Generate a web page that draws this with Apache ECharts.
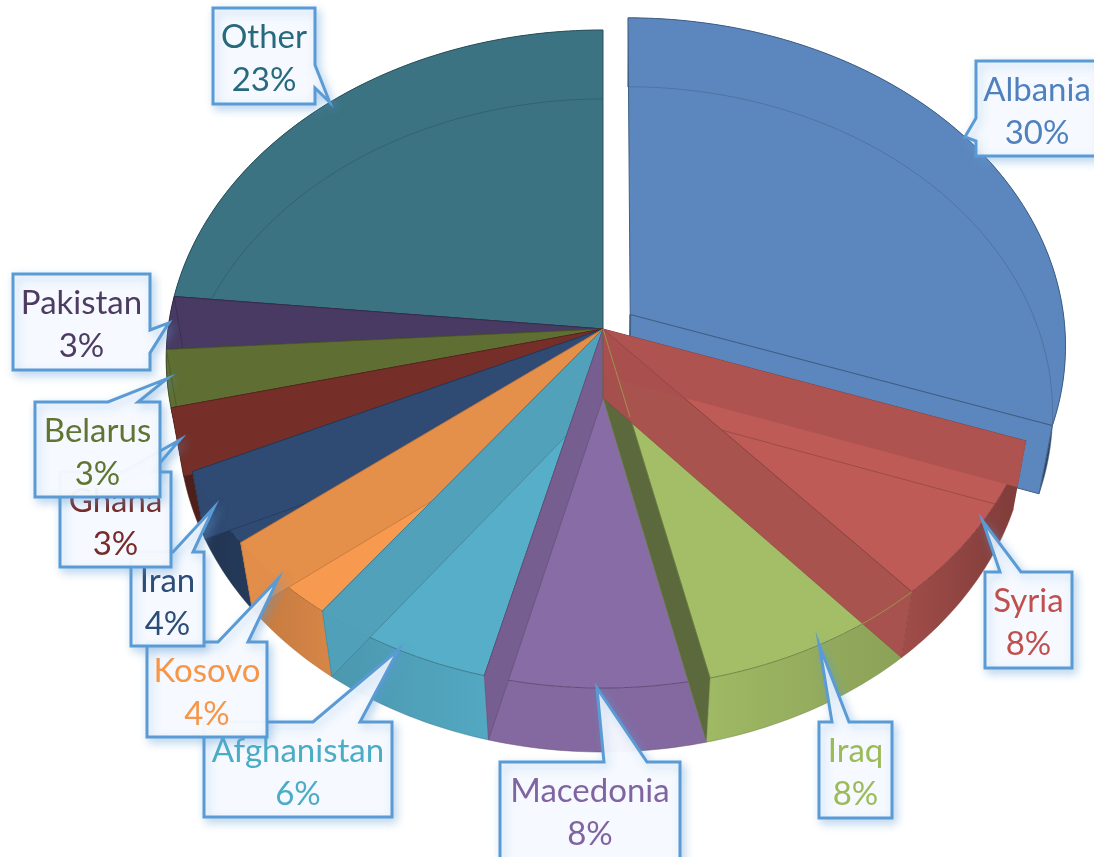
<!DOCTYPE html>
<html>
<head>
<meta charset="utf-8">
<title>3D pie</title>
<style>
  html, body { margin: 0; padding: 0; background: #fff; }
  #main { width: 1094px; height: 857px; }
</style>
<script src="https://cdn.jsdelivr.net/npm/echarts@6/dist/echarts.min.js"></script>
</head>
<body>
<div id="main"></div>
<script>
// data
const categories = ['Albania', 'Syria', 'Iraq', 'Macedonia', 'Afghanistan', 'Kosovo', 'Iran', 'Ghana', 'Belarus', 'Pakistan', 'Other'];
const values = [30.4, 8.1, 7.9, 7.6, 6.2, 4.2, 3.7, 3.1, 2.8, 2.6, 23.4];
const explode = [0.077, 0, 0, 0, 0, 0, 0, 0, 0, 0, 0];

// styles
const colors = ['#4F81BD', '#C0504D', '#9BBB59', '#8064A2', '#4BACC6', '#F79646', '#2C4D75', '#772C2A', '#5F7530', '#4D3B62', '#276A7C'];
const topColors = ['#5C87BE', '#BF5B57', '#A3BE67', '#886CA5', '#56AEC8', '#F79A50', '#2F4A73', '#752F28', '#5F6F35', '#483A62', '#3B7383'];
const wallShade = [1, 0.88, 0.55, 0.87, 0.92, 0.92, 1, 1, 1, 1, 1];

// label boxes: x0, y0, x1, y1, tail edge, tail base a, tail base b
const labelBoxes = [
  [976, 61, 1098, 156, 'left', 118, 141],
  [985, 572, 1072, 668, 'top', 1000, 1021],
  [819, 722, 892, 818, 'top', 832, 849],
  [500, 762, 680, 870, 'top', 604, 647],
  [204, 722, 392, 817, 'top', 313, 360],
  [147, 642, 267, 737, 'top', 218, 248],
  [131, 552, 204, 646, 'top', 173, 193],
  [60, 472, 171, 567, 'top', 123, 152],
  [35, 402, 160, 497, 'top', 108, 138],
  [13, 274, 150, 370, 'right', 330, 353],
  [213, 8, 315, 104, 'right', 65, 88]
];

const total = values.reduce((a, b) => a + b, 0);
const angles = [];
let acc = 0;
values.forEach(v => {
  angles.push([acc / total * 360, (acc + v) / total * 360]);
  acc += v;
});

// perspective disc: level 0 is the top face, level 1 the bottom face
const CX = 603;
const faces = [
  { cy: 329, r: 435, a: 326.3, b: 0.0912 },
  { cy: 398, r: 423, a: 324.2, b: 0.0842 }
];

function offsetOf(i) {
  const mid = (angles[i][0] + angles[i][1]) / 2 * Math.PI / 180;
  return [explode[i] * Math.sin(mid), -explode[i] * Math.cos(mid)];
}

function project(i, deg, rad, level) {
  const f = faces[level];
  const o = offsetOf(i);
  const t = deg * Math.PI / 180;
  const X = rad * Math.sin(t) + o[0];
  const Y = -rad * Math.cos(t) + o[1];
  const w = 1 - f.b * Y;
  return [CX + f.r * X / w, f.cy + f.a * Y / w];
}

function arc(i, level, from, to) {
  const pts = [];
  const n = Math.max(4, Math.ceil(Math.abs(to - from)));
  for (let k = 0; k <= n; k++) {
    pts.push(project(i, from + (to - from) * k / n, 1, level));
  }
  return pts;
}

function mix(hex, target, t) {
  const p = h => [1, 3, 5].map(k => parseInt(h.substr(k, 2), 16));
  const a = p(hex), b = p(target);
  return '#' + a.map((c, k) => Math.round(c + (b[k] - c) * t).toString(16).padStart(2, '0')).join('');
}

function wallLight(deg) {
  return 1 - 0.5 * Math.pow(Math.min(1, Math.abs(deg - 180) / 90), 1.5);
}

// radial wall at an angle, depth is a fraction of the full height
function wall(i, deg, depth) {
  const t0 = project(i, 0, 0, 0), e0 = project(i, deg, 1, 0);
  const t1 = project(i, 0, 0, 1), e1 = project(i, deg, 1, 1);
  const lerp = (p, q) => [p[0] + (q[0] - p[0]) * depth, p[1] + (q[1] - p[1]) * depth];
  return [t0, e0, lerp(e0, e1), lerp(t0, t1)];
}

function renderSlice(params, api) {
  const i = api.value(0);
  const from = angles[i][0], to = angles[i][1];
  const topFill = topColors[i];
  const edge = mix(topFill, '#000000', 0.3);
  const wallFill = mix(topFill, '#000000', 1 - wallShade[i]);
  const children = [];

  // outer wall
  const outer = arc(i, 0, from, to).concat(arc(i, 1, from, to).reverse());
  children.push({
    type: 'polygon',
    shape: { points: outer },
    style: {
      fill: new echarts.graphic.LinearGradient(0, 0, 1, 0, [
        { offset: 0, color: mix(topFill, '#000000', 1 - wallLight(to)) },
        { offset: 1, color: mix(topFill, '#000000', 1 - wallLight(from)) }
      ])
    }
  });

  // top face
  const apex = project(i, 0, 0, 0);
  children.push({
    type: 'polygon',
    shape: { points: [apex].concat(arc(i, 0, from, to)) },
    style: { fill: topFill, stroke: edge, lineWidth: 1, opacity: 1 }
  });

  // bottom rim seen through the glass
  children.push({
    type: 'polyline',
    shape: { points: arc(i, 1, from, to) },
    style: { fill: null, stroke: edge, lineWidth: 1, opacity: 0.5 }
  });

  // start wall, only faint because it faces away
  if (categories[i] === 'Syria') {
    children.push({
      type: 'polygon',
      shape: { points: wall(i, from, 47 / 69) },
      style: { fill: mix(topFill, '#000000', 0.09), opacity: 1 }
    });
    const w = wall(i, from, 1);
    children.push({
      type: 'polyline',
      shape: { points: [w[3], w[2]] },
      style: { fill: null, stroke: edge, lineWidth: 1, opacity: 0.6 }
    });
  } else if (categories[i] === 'Albania') {
    const w = wall(i, to, 1);
    children.push({
      type: 'polygon',
      shape: { points: w },
      style: { fill: topFill, stroke: edge, lineWidth: 1 }
    });
    const s = wall(i, from, 1);
    children.push({
      type: 'polyline',
      shape: { points: [s[0], s[3]] },
      style: { fill: null, stroke: edge, lineWidth: 2, opacity: 0.8 }
    });
  }

  // end wall
  if (categories[i] !== 'Albania' && categories[i] !== 'Other') {
    children.push({
      type: 'polygon',
      shape: { points: wall(i, to, 1) },
      style: { fill: wallFill, stroke: edge, lineWidth: 0.6, opacity: 0.97 }
    });
  }

  // Iraq's edges show faintly through Syria's wall
  if (categories[i] === 'Syria') {
    const next = i + 1;
    const glint = { fill: null, stroke: '#A0A050', lineWidth: 1, opacity: 0.8 };
    children.push({
      type: 'polyline',
      shape: { points: arc(next, 0, angles[next][0], angles[next][0] + 8) },
      style: glint
    });
    children.push({
      type: 'polyline',
      shape: { points: [apex, project(next, angles[next][1], 0.27, 0)] },
      style: glint
    });
  }
  return { type: 'group', children: children };
}

function calloutPoints(box, tip) {
  const [x0, y0, x1, y1, side, a, b] = box;
  if (side === 'top') return [[x0, y0], [a, y0], tip, [b, y0], [x1, y0], [x1, y1], [x0, y1]];
  if (side === 'right') return [[x0, y0], [x1, y0], [x1, a], tip, [x1, b], [x1, y1], [x0, y1]];
  return [[x0, y0], [x1, y0], [x1, y1], [x0, y1], [x0, b], tip, [x0, a]];
}

function renderLabel(params, api) {
  const i = api.value(0);
  const box = labelBoxes[i];
  const tip = project(i, (angles[i][0] + angles[i][1]) / 2, 1, 0);
  const cx = (box[0] + box[2]) / 2;
  const textStyle = { fill: colors[i], fontFamily: 'Lato', fontSize: 33, align: 'center', verticalAlign: 'middle' };
  return {
    type: 'group',
    children: [
      {
        type: 'polygon',
        shape: { points: calloutPoints(box, tip) },
        style: {
          fill: 'rgba(249,251,255,0.95)',
          stroke: '#5B9BD5',
          lineWidth: 3,
          lineJoin: 'miter',
          shadowBlur: 10,
          shadowOffsetX: 3,
          shadowOffsetY: 4,
          shadowColor: 'rgba(91,155,213,0.4)'
        }
      },
      {
        type: 'text',
        style: Object.assign({ text: categories[i], x: cx, y: box[1] + 29 }, textStyle)
      },
      {
        type: 'text',
        style: Object.assign({ text: Math.round(values[i] / total * 100) + '%', x: cx, y: box[1] + 72 }, textStyle)
      }
    ]
  };
}

// back to front: Albania, then anticlockwise round to Syria
const paintOrder = [0];
for (let i = categories.length - 1; i > 0; i--) paintOrder.push(i);

const chart = echarts.init(document.getElementById('main'));
chart.setOption({
  animation: false,
  backgroundColor: '#ffffff',
  series: [
    {
      type: 'custom',
      coordinateSystem: 'none',
      silent: true,
      renderItem: renderSlice,
      data: paintOrder.map(i => [i, values[i]])
    },
    {
      type: 'custom',
      coordinateSystem: 'none',
      silent: true,
      renderItem: renderLabel,
      data: categories.map((c, i) => [i, values[i]])
    }
  ]
});
</script>
</body>
</html>
